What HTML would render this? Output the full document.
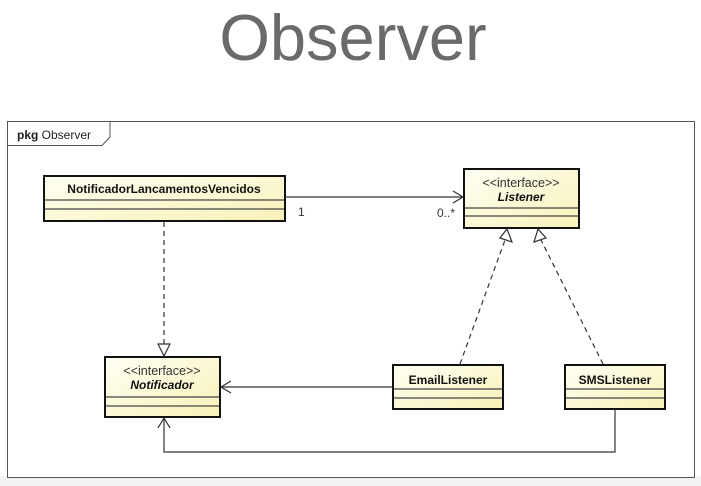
<!DOCTYPE html>
<html><head><meta charset="utf-8"><style>
html,body{margin:0;padding:0;background:#fff;}
body{width:701px;height:486px;overflow:hidden;position:relative;font-family:"Liberation Sans",sans-serif;}
</style></head><body>
<svg width="701" height="486" xmlns="http://www.w3.org/2000/svg" style="position:absolute;left:0;top:0">
<defs>
<linearGradient id="g" x1="0" y1="0" x2="1" y2="1">
<stop offset="0" stop-color="#fffff4"/><stop offset="1" stop-color="#f8f1b8"/>
</linearGradient>
</defs>
<rect x="0" y="476" width="701" height="10" fill="#f2f2f2"/>
<text x="353" y="60" text-anchor="middle" font-size="65" fill="#6a6a6c" font-family="Liberation Sans, sans-serif">Observer</text>
<rect x="7.5" y="121.5" width="687" height="356" fill="#fff" stroke="#555" stroke-width="1"/>
<path d="M7.5 145.5 H102 L110 137 V121.5" fill="none" stroke="#555"/>
<text x="17" y="139" font-size="12" fill="#222"><tspan font-weight="bold">pkg</tspan> Observer</text>

<g stroke="#111" stroke-width="2" fill="url(#g)">
<rect x="44" y="176" width="241" height="45"/>
<rect x="464" y="169" width="115" height="59"/>
<rect x="105" y="357" width="115" height="60"/>
<rect x="393" y="365" width="110" height="44"/>
<rect x="565" y="365" width="100" height="44"/>
</g>
<g stroke="#444" stroke-width="1.2">
<line x1="45" y1="200" x2="284" y2="200"/><line x1="45" y1="209" x2="284" y2="209"/>
<line x1="465" y1="208" x2="578" y2="208"/><line x1="465" y1="216" x2="578" y2="216"/>
<line x1="106" y1="397" x2="219" y2="397"/><line x1="106" y1="406" x2="219" y2="406"/>
<line x1="394" y1="389" x2="502" y2="389"/><line x1="394" y1="398" x2="502" y2="398"/>
<line x1="566" y1="389" x2="664" y2="389"/><line x1="566" y1="398" x2="664" y2="398"/>
</g>
<g font-size="12" fill="#111" text-anchor="middle">
<text x="164" y="193" font-weight="bold">NotificadorLancamentosVencidos</text>
<text x="521" y="187" fill="#333" font-size="12.5">&lt;&lt;interface&gt;&gt;</text>
<text x="521" y="201" font-weight="bold" font-style="italic">Listener</text>
<text x="162" y="375" fill="#333" font-size="12.5">&lt;&lt;interface&gt;&gt;</text>
<text x="162" y="389" font-weight="bold" font-style="italic">Notificador</text>
<text x="448" y="384" font-weight="bold">EmailListener</text>
<text x="615" y="384" font-weight="bold">SMSListener</text>
</g>
<g font-size="12" fill="#333">
<text x="298" y="216">1</text>
<text x="437" y="217">0..*</text>
</g>
<g stroke="#333" stroke-width="1.2" fill="none">
<line x1="285" y1="197" x2="463" y2="197"/>
<path d="M453 191 L463 197 L453 203"/>
<line x1="393" y1="387" x2="221" y2="387"/>
<path d="M231 381 L221 387 L231 393"/>
<path d="M615 409 V452 H164 V418"/>
<path d="M158 428 L164 418 L170 428"/>
<g stroke-dasharray="5,4">
<line x1="164" y1="222" x2="164" y2="344"/>
<line x1="460" y1="364" x2="505" y2="240"/>
<line x1="603" y1="364" x2="541" y2="240"/>
</g>
<path d="M158 344 L170 344 L164 356 Z" fill="#fff"/>
<path d="M500 238 L512 242 L507 229 Z" fill="#fff"/>
<path d="M534 242 L546 238 L538 229 Z" fill="#fff"/>
</g>
</svg>
</body></html>
